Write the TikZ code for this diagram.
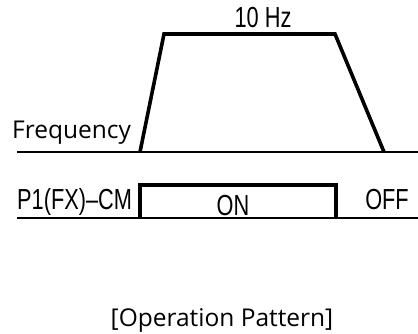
\documentclass[tikz,border=0pt]{standalone}
\usepackage{fontspec}
\setmainfont{Open Sans}
\newfontfamily\narrowfont[FakeStretch=0.75]{Liberation Sans}

\begin{document}
\begin{tikzpicture}[
  x=1pt,y=-1pt,
  axis/.style={line width=2pt,black},
  trace/.style={line width=3.6pt,black},
  caption/.style={font=\fontsize{24.5}{29}\selectfont,inner sep=0pt},
  sig/.style={font=\narrowfont\fontsize{29}{33}\selectfont,inner sep=0pt},
]
\useasboundingbox (0,0) rectangle (418,333);

% ---- frequency profile ----
\draw[axis] (17,152) -- (418,152);
\draw[trace] (140,152) -- (164,34) -- (335,34) -- (384,152);
\node[sig,anchor=base] (hz) at (263,27) {10 Hz};
\node[caption,anchor=base west] (freq) at (12,138) {Frequency};

% ---- run command P1(FX)-CM ----
\draw[axis] (17,218) -- (418,218);
\draw[trace] (140,218) -- (140,185) -- (336,185) -- (336,218);
\node[sig,anchor=base west] (fx) at (17,209) {P1(FX)–CM};
\node[sig,anchor=base] (on) at (233,215) {ON};
\node[sig,anchor=base] (off) at (387,209) {OFF};

% ---- caption ----
\node[caption,anchor=base] (pattern) at (222,326) {[Operation Pattern]};
\end{tikzpicture}
\end{document}
